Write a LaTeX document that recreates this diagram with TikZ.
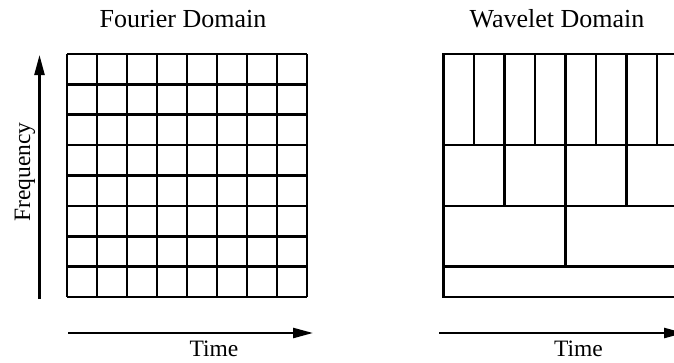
\documentclass[tikz,border=0pt]{standalone}
\usepackage{fontspec}
\setmainfont{Liberation Serif}
\usetikzlibrary{arrows.meta}
\begin{document}
\begin{tikzpicture}[x=1pt,y=-1pt,
  gridline/.style={line width=2.6pt},
  axis/.style={line width=2.4pt,-{Triangle[length=20pt,width=10pt]}},
  title/.style={font=\fontsize{26}{30}\selectfont,anchor=base,inner sep=0pt},
  axlabel/.style={font=\fontsize{23.5}{28}\selectfont,anchor=base,inner sep=0pt}]
\useasboundingbox (0,0) rectangle (674,362);
\clip (0,0) rectangle (674,362);
% Fourier grid
\foreach \i in {0,...,8} {
  \draw[gridline] (67+30*\i,54) -- (67+30*\i,297);
  \draw[gridline] (67,54+30.375*\i) -- (307,54+30.375*\i);
}
% Wavelet grid
\draw[gridline] (443.5,54) rectangle (687.5,297);
\foreach \y in {145.1,205.9,266.6} \draw[gridline] (443.5,\y) -- (687.5,\y);
\foreach \i in {1,...,7} \draw[gridline] (443.5+30.5*\i,54) -- (443.5+30.5*\i,145.1);
\foreach \i in {1,2,3} \draw[gridline] (443.5+61*\i,145.1) -- (443.5+61*\i,205.9);
\draw[gridline] (565.5,205.9) -- (565.5,266.6);
% axes
\coordinate (f0) at (39.5,299);
\coordinate (f1) at (39.5,55);
\coordinate (t0) at (68,333);
\coordinate (t1) at (313,333);
\coordinate (w0) at (439,333);
\coordinate (w1) at (684,333);
\draw[axis] (f0) -- (f1);
\draw[axis] (t0) -- (t1);
\draw[axis] (w0) -- (w1);
% labels
\node[title] (ft) at (183,27) {Fourier Domain};
\node[title] (wt) at (557,27) {Wavelet Domain};
\node[axlabel] (tl) at (214,356.5) {Time};
\node[axlabel] (wl) at (578.5,356.5) {Time};
\node[axlabel,rotate=90] (fl) at (30,172) {Frequency};
\end{tikzpicture}
\end{document}
